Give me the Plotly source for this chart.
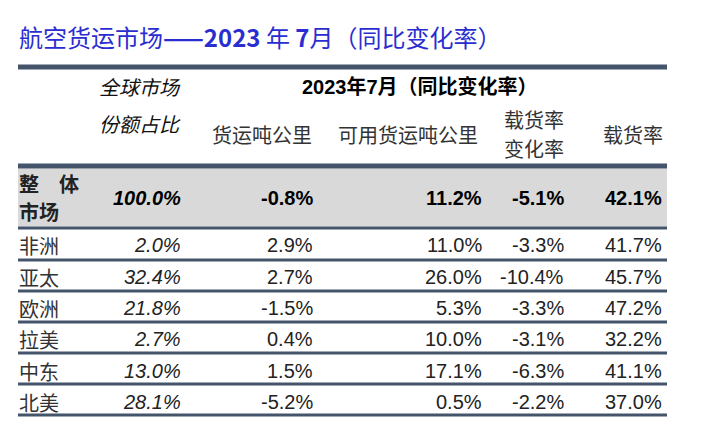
import plotly.graph_objects as go

# dati: luglio 2023, variazione anno su anno
regioni = ["非洲", "亚太", "欧洲", "拉美", "中东", "北美"]
quota = [2.0, 32.4, 21.8, 2.7, 13.0, 28.1]
rtk = [2.9, 2.7, -1.5, 0.4, 1.5, -5.2]
actk = [11.0, 26.0, 5.3, 10.0, 17.1, 0.5]
lf_var = [-3.3, -10.4, -3.3, -3.1, -6.3, -2.2]
lf = [41.7, 45.7, 47.2, 32.2, 41.1, 37.0]
totale = [100.0, -0.8, 11.2, -5.1, 42.1]

titolo = "航空货运市场<b>——2023</b> 年 <b>7</b>月（同比变化率）"
intestazione = "2023年7月（同比变化率）"
col_quota = ["全球市场", "份额占比"]
colonne = ["货运吨公里", "可用货运吨公里", ["载货率", "变化率"], "载货率"]
riga_totale = ["整\u3000体", "市场"]

# posizioni (pixel)
X_DX = [182, 314, 483, 565, 663]
X_HDR = [262, 408, 534, 633]
Y_RIGHE = [245, 277, 308, 339, 371, 402]
Y_LINEE = [260, 291, 322, 353, 384, 415]

LINEA = "#44546A"
NUM = "Liberation Sans, Arial, Noto Sans CJK SC"
CJK = "Noto Sans CJK SC, Liberation Sans"
TXT = "#222222"

fig = go.Figure()
fig.add_trace(go.Scatter(x=[0, 713], y=[0, 426], mode="markers", marker=dict(opacity=0), hoverinfo="skip"))

shapes = []
shapes.append(dict(type="rect", x0=18, x1=667, y0=168.5, y1=226.5, fillcolor="#D9D9D9", line_width=0, layer="below"))
shapes.append(dict(type="line", x0=18, x1=667, y0=67, y1=67, line=dict(color=LINEA, width=5)))
shapes.append(dict(type="line", x0=18, x1=667, y0=166, y1=166, line=dict(color=LINEA, width=5)))
shapes.append(dict(type="line", x0=18, x1=667, y0=228, y1=228, line=dict(color=LINEA, width=3)))
for y in Y_LINEE:
    shapes.append(dict(type="line", x0=18, x1=667, y0=y, y1=y, line=dict(color=LINEA, width=3)))

ann = []
def testo(x, y, t, size=20, fam=NUM, col=TXT, xa="right"):
    ann.append(dict(x=x, y=y, xref="x", yref="y", text=t, showarrow=False, xanchor=xa, yanchor="middle",
                    borderpad=0, font=dict(family=fam, size=size, color=col)))

testo(18, 36, titolo, size=24, fam=CJK, col="#2A2ED0", xa="left")

# intestazione
testo(182, 86, "<i>" + col_quota[0] + "</i>", fam=CJK, col="#111111")
testo(182, 123, "<i>" + col_quota[1] + "</i>", fam=CJK, col="#111111")
testo(420, 86, "<b>" + intestazione + "</b>", fam=NUM, col="#000000", xa="center")
for x, c in zip(X_HDR, colonne):
    if isinstance(c, list):
        testo(x, 119, c[0], fam=CJK, col="#333333", xa="center")
        testo(x, 148, c[1], fam=CJK, col="#333333", xa="center")
    else:
        testo(x, 134, c, fam=CJK, col="#333333", xa="center")

# riga totale
testo(18, 183, "<b>" + riga_totale[0] + "</b>", fam=CJK, col="#222222", xa="left")
testo(18, 211, "<b>" + riga_totale[1] + "</b>", fam=CJK, col="#222222", xa="left")
for i, v in enumerate(totale):
    s = "%.1f%%" % v
    s = "<b><i>" + s + "</i></b>" if i == 0 else "<b>" + s + "</b>"
    testo(X_DX[i], 198, s, col="#000000")

# righe regioni
for r in range(len(regioni)):
    y = Y_RIGHE[r]
    testo(18, y, regioni[r], fam=CJK, col="#333333", xa="left")
    vals = [quota[r], rtk[r], actk[r], lf_var[r], lf[r]]
    for i, v in enumerate(vals):
        s = "%.1f%%" % v
        if i == 0:
            s = "<i>" + s + "</i>"
        testo(X_DX[i], y, s)

fig.update_layout(
    width=713, height=426,
    margin=dict(l=0, r=0, t=0, b=0),
    paper_bgcolor="white", plot_bgcolor="white",
    showlegend=False,
    xaxis=dict(range=[0, 713], visible=False, fixedrange=True),
    yaxis=dict(range=[426, 0], visible=False, fixedrange=True),
    shapes=shapes, annotations=ann,
)

fig.write_html("out.html", config={"displayModeBar": False},
               post_script="document.body.style.margin='0';")
